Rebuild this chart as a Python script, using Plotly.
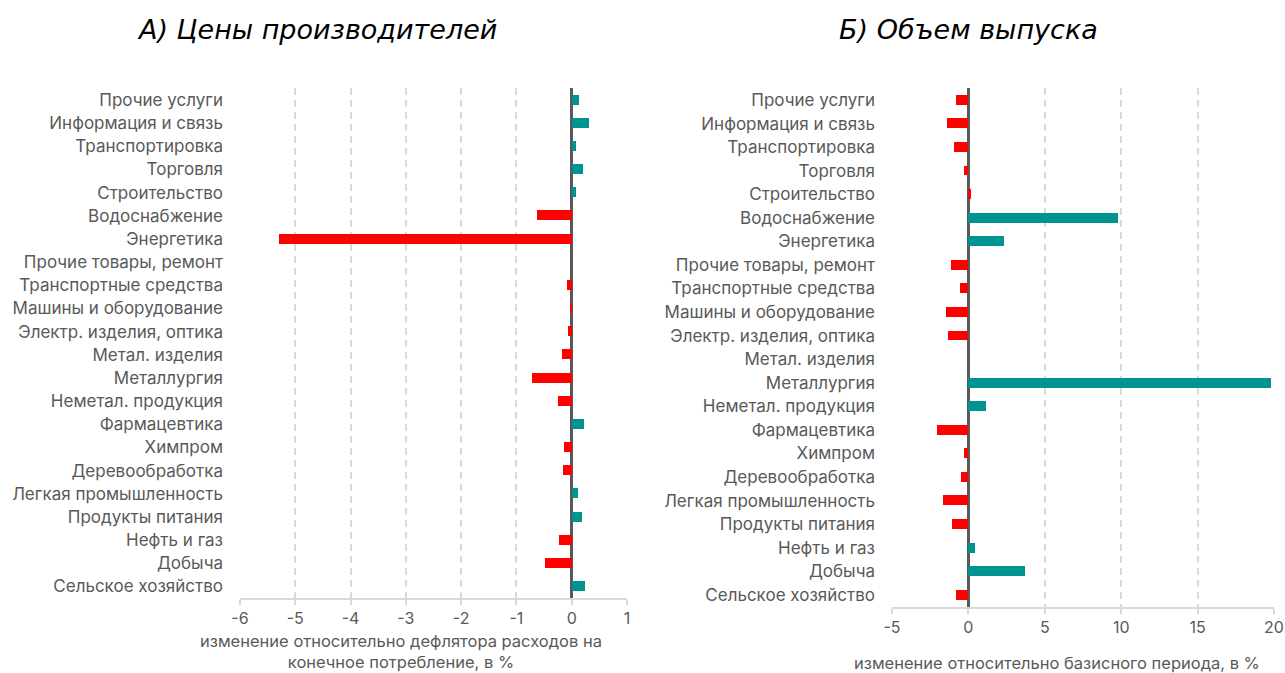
import plotly.graph_objects as go

categories = [
    "Прочие услуги", "Информация и связь", "Транспортировка", "Торговля",
    "Строительство", "Водоснабжение", "Энергетика", "Прочие товары, ремонт",
    "Транспортные средства", "Машины и оборудование", "Электр. изделия, оптика",
    "Метал. изделия", "Металлургия", "Неметал. продукция", "Фармацевтика",
    "Химпром", "Деревообработка", "Легкая промышленность", "Продукты питания",
    "Нефть и газ", "Добыча", "Сельское хозяйство",
]

prices = [0.14, 0.32, 0.07, 0.20, 0.07, -0.62, -5.29, 0.0,
          -0.08, -0.03, -0.07, -0.17, -0.72, -0.25, 0.22,
          -0.14, -0.16, 0.11, 0.18, -0.23, -0.49, 0.24]

output = [-0.80, -1.40, -0.96, -0.28, 0.18, 9.81, 2.34, -1.11,
          -0.56, -1.44, -1.31, 0.0, 19.8, 1.16, -2.03,
          -0.26, -0.48, -1.66, -1.05, 0.44, 3.71, -0.83]

ticks_a = [-6, -5, -4, -3, -2, -1, 0, 1]
ticklabels_a = ["-6", "-5", "-4", "-3", "-2", "-1", "0", "1"]
ticks_b = [-5, 0, 5, 10, 15, 20]
ticklabels_b = ["-5", "0", "5", "10", "15", "20"]

title_a = "А) Цены производителей"
title_b = "Б) Объем выпуска"
xlabel_a = "изменение относительно дефлятора расходов на<br>конечное потребление, в %"
xlabel_b = "изменение относительно базисного периода, в %"

TEAL = "#009491"
RED = "#FF0000"
GREY = "#595959"
LIGHT = "#d9d9d9"
FONT = "Inter"
FS = 17

col_a = [TEAL if v > 0 else RED for v in prices]
col_b = [TEAL if v > 0 else RED for v in output]
col_b[categories.index("Строительство")] = RED

W, H = 1285, 673


def px(X):
    return X / W


def py(Y):
    return 1 - Y / H


fig = go.Figure()
fig.add_trace(go.Bar(x=prices, y=categories, orientation="h", marker_color=col_a,
                     marker_line_width=0, width=0.43, xaxis="x", yaxis="y",
                     showlegend=False, hoverinfo="skip"))
fig.add_trace(go.Bar(x=output, y=categories, orientation="h", marker_color=col_b,
                     marker_line_width=0, width=0.42, xaxis="x2", yaxis="y2",
                     showlegend=False, hoverinfo="skip"))

xcommon = dict(showgrid=True, gridcolor=LIGHT, gridwidth=1.8, griddash="7px,5px",
               zeroline=True, zerolinecolor=GREY, zerolinewidth=2.5,
               showline=True, linecolor=LIGHT, linewidth=1.8,
               ticks="outside", ticklen=5, tickcolor=LIGHT, tickwidth=1.8,
               tickfont=dict(family=FONT, size=16, color=GREY), automargin=False,
               ticklabeloverflow="allow")
ycommon = dict(showgrid=False, zeroline=False, showline=False, ticks="",
               tickfont=dict(family=FONT, size=FS, color=GREY),
               range=[21.5, -0.5], ticklabelstandoff=16, automargin=False)

fig.update_layout(
    template="none",
    width=W, height=H, margin=dict(l=0, r=0, t=0, b=0, pad=0),
    plot_bgcolor="white", paper_bgcolor="white", bargap=0,
    xaxis=dict(domain=[px(240), px(627)], range=[-6, 1], anchor="y",
               tickvals=ticks_a, ticktext=ticklabels_a, **xcommon),
    yaxis=dict(domain=[py(598), py(88.4)], anchor="x", **ycommon),
    xaxis2=dict(domain=[px(892), px(1274)], range=[-5, 20], anchor="y2",
                tickvals=ticks_b, ticktext=ticklabels_b, **xcommon),
    yaxis2=dict(domain=[py(606.7), py(88.2)], anchor="x2", **ycommon),
    annotations=[
        dict(text="<i>" + title_a + "</i>", x=px(317), y=py(30), xref="paper", yref="paper",
             showarrow=False, font=dict(family="DejaVu Sans", size=27, color="black"),
             xanchor="center", yanchor="middle"),
        dict(text="<i>" + title_b + "</i>", x=px(968), y=py(30), xref="paper", yref="paper",
             showarrow=False, font=dict(family="DejaVu Sans", size=27, color="black"),
             xanchor="center", yanchor="middle"),
        dict(text=xlabel_a, x=px(401), y=py(651), xref="paper", yref="paper",
             showarrow=False, font=dict(family=FONT, size=16.5, color=GREY),
             xanchor="center", yanchor="middle", align="center"),
        dict(text=xlabel_b, x=px(1057), y=py(663), xref="paper", yref="paper",
             showarrow=False, font=dict(family=FONT, size=16.5, color=GREY),
             xanchor="center", yanchor="middle"),
    ],
)

fig.write_html("out.html", config={"displayModeBar": False},
               post_script="document.body.style.margin='0';document.body.style.overflow='hidden';")
